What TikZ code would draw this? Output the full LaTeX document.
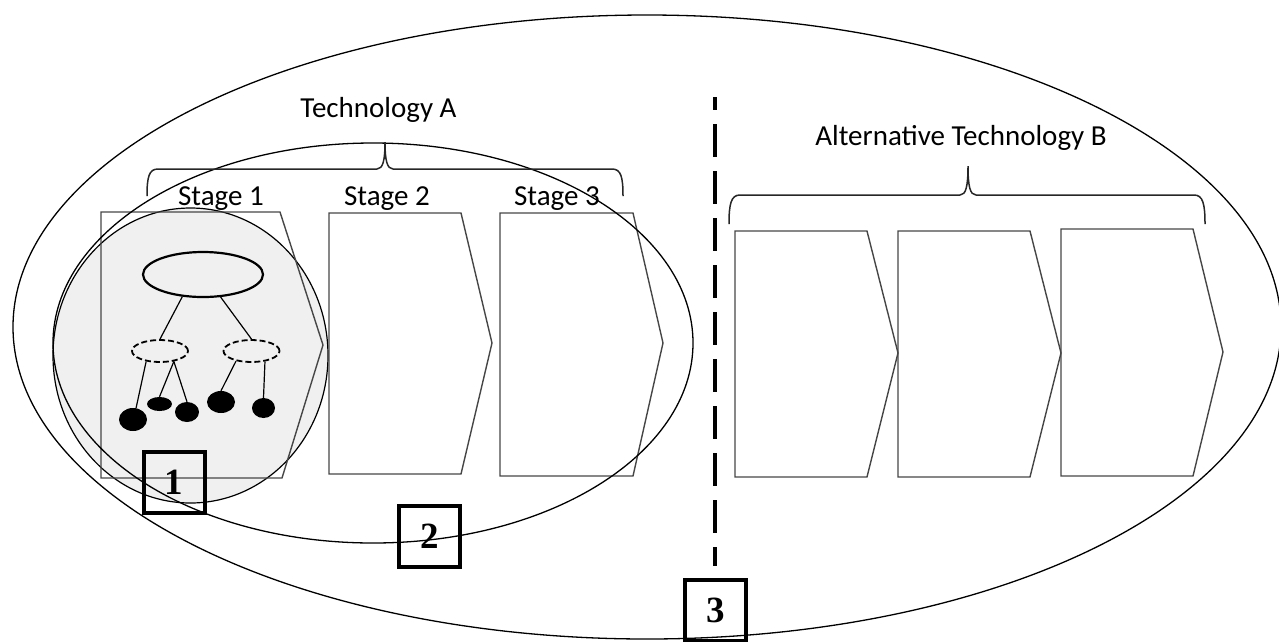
\documentclass[tikz,border=0pt]{standalone}
\usepackage{fontspec}
\setsansfont{Carlito}
\newfontfamily\numfont{Liberation Serif}
\usetikzlibrary{shapes.geometric}
\definecolor{circfill}{RGB}{240,240,240}
\definecolor{chevline}{RGB}{70,70,70}
\tikzset{
  ring/.style={line width=1.3pt, draw=black},
  chevron/.style={line width=1.4pt, draw=chevline, line join=miter},
  brace/.style={line width=1.5pt, draw=black!85},
  caption/.style={font=\sffamily\fontsize{29}{34}\selectfont, inner sep=0pt, anchor=base},
  numbox/.style={draw=black, line width=4pt, minimum width=61pt, minimum height=61pt,
                 inner sep=0pt, font=\numfont\bfseries\fontsize{37}{40}\selectfont},
  root/.style={ellipse, draw, line width=2.2pt, minimum width=120pt, minimum height=45pt, inner sep=0pt},
  branch/.style={ellipse, draw, dashed, dash pattern=on 6pt off 3pt, line width=1.8pt,
                 minimum width=56pt, minimum height=22pt, inner sep=0pt},
  leaf/.style={ellipse, fill=black, inner sep=0pt},
  twig/.style={line width=1.2pt},
  divider/.style={line width=3.3pt, dash pattern=on 33pt off 14pt, dash phase=20pt}
}
\begin{document}
\begin{tikzpicture}[x=1pt, y=-1pt]
\useasboundingbox (0,0) rectangle (1279,641);

% shaded scope of the first stage
\fill[circfill] (190.5,355.5) ellipse [x radius=137.5pt, y radius=147.5pt];
\draw[line width=1.2pt] (190.5,355.5) ellipse [x radius=137.5pt, y radius=147.5pt];

% stages of technology A
\draw[chevron] (101,212) -- (280,212) -- (323,345) -- (282,478) -- (101,478) -- cycle;
\draw[chevron] (329,213) -- (461,213) -- (492,343) -- (461,474) -- (329,474) -- cycle;
\draw[chevron] (500,213) -- (633,213) -- (663,343) -- (633,476) -- (500,476) -- cycle;

% stages of technology B
\draw[chevron] (735,231) -- (867,231) -- (898,353) -- (867,477) -- (735,477) -- cycle;
\draw[chevron] (898,231) -- (1030,231) -- (1061,353) -- (1030,477) -- (898,477) -- cycle;
\draw[chevron] (1061,229) -- (1193,229) -- (1223,352) -- (1193,476) -- (1061,476) -- cycle;

% enclosing scopes
\draw[ring] (373,343) ellipse [x radius=320pt, y radius=200pt];
\draw[ring] (647,327) ellipse [x radius=634pt, y radius=312pt];

% hierarchy inside stage 1
\node[root] (r) at (203,274.5) {};
\node[branch] (ml) at (160,351) {};
\node[branch] (mr) at (251.5,351) {};
\node[leaf, minimum width=28pt, minimum height=23pt] (la) at (133,419.5) {};
\node[leaf, minimum width=25pt, minimum height=14pt] (lb) at (159.5,404) {};
\node[leaf, minimum width=24pt, minimum height=20pt] (lc) at (187,412) {};
\node[leaf, minimum width=28pt, minimum height=22pt] (ld) at (221,402) {};
\node[leaf, minimum width=23pt, minimum height=20pt] (le) at (263.5,408) {};
\draw[twig] (r.227) -- (ml.north);
\draw[twig] (r.308) -- (mr.north);
\draw[twig] (ml.217) -- (la.75);
\draw[twig] (ml.323) -- (lb.north);
\draw[twig] (ml.323) -- (lc.north);
\draw[twig] (mr.213) -- (ld.north);
\draw[twig] (mr.322) -- (le.north);

% braces
\draw[brace] (147,196) .. controls (147,177) and (149,169) .. (158,169) -- (377,169)
  .. controls (383,169) and (385,160) .. (385,142)
  .. controls (385,160) and (387,169) .. (393,169) -- (612,169)
  .. controls (621,169) and (623,177) .. (623,196);
\draw[brace] (729,224) .. controls (729,204) and (731,195) .. (740,195) -- (960,195)
  .. controls (966,195) and (968,186) .. (968,166)
  .. controls (968,186) and (970,195) .. (976,195) -- (1194,195)
  .. controls (1203,195) and (1205,204) .. (1205,224);

% labels
\node[caption] (ta) at (378.5,117) {Technology A};
\node[caption] (tb) at (961,145) {Alternative Technology B};
\node[caption] (s1) at (221,205) {Stage 1};
\node[caption] (s2) at (387,205) {Stage 2};
\node[caption] (s3) at (557,205) {Stage 3};

% divider between the technologies
\coordinate (dtop) at (715,97);
\coordinate (dbot) at (715,566);
\draw[divider] (dtop) -- (dbot);

% numbered levels
\node[numbox] (n1) at (174,482.5) {1};
\node[numbox] (n2) at (429.5,536.5) {2};
\node[numbox] (n3) at (715.5,610.5) {3};
\end{tikzpicture}
\end{document}
